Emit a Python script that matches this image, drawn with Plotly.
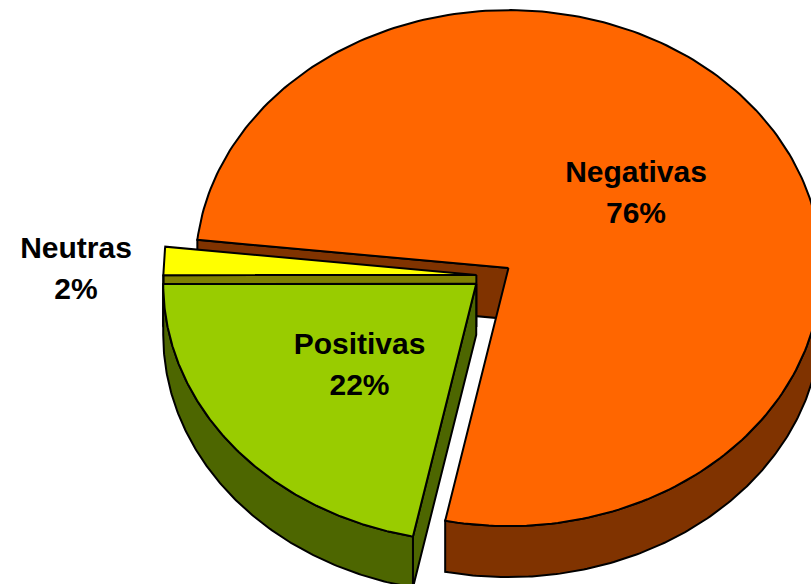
import numpy as np
import plotly.graph_objects as go

categories = ["Negativas", "Positivas", "Neutras"]
values = [76.49, 21.75, 1.76]
top_colors = ["#FF6600", "#99CC00", "#FFFF00"]
side_colors = ["#803300", "#4D6600", "#808000"]
explode_x = [0.065, 0.065, 0.05]
explode_y = [0.05, 0.05, 0.05]
label_x = [636, 359.5, 76]
name_y = [174, 346, 250]
pct_y = [215, 387, 291]
draw_order = [0, 2, 1]

CX, CY, A, B, DEPTH, START = 492, 275.7, 313, 258, 51, 186.3
LINE = dict(color="black", width=2)

fig = go.Figure()


def poly(xs, ys, color):
    fig.add_trace(go.Scatter(x=np.r_[xs, xs[0]], y=np.r_[ys, ys[0]], mode="lines", fill="toself",
                             fillcolor=color, line=LINE, hoverinfo="skip", showlegend=False))


def rim(ax, ay, t0, t1, color):
    # outer wall: only the part facing the viewer (sin t > 0)
    for k in (0, 1):
        lo, hi = max(t0, 360 * k), min(t1, 360 * k + 180)
        if hi > lo:
            t = np.radians(np.linspace(lo, hi, 160))
            x = ax + A * np.cos(t)
            y = ay + B * np.sin(t)
            poly(np.r_[x, x[::-1]], np.r_[y, y[::-1] + DEPTH], color)


def radial(ax, ay, t, color):
    r = np.radians(t)
    ex, ey = ax + A * np.cos(r), ay + B * np.sin(r)
    poly(np.array([ax, ex, ex, ax]), np.array([ay, ey, ey + DEPTH, ay + DEPTH]), color)


sweeps = np.array(values) / sum(values) * 360
starts = START + np.r_[0, np.cumsum(sweeps)[:-1]]

for i in draw_order:
    t0, t1 = starts[i], starts[i] + sweeps[i]
    mid = np.radians((t0 + t1) / 2)
    ax = CX + explode_x[i] * A * np.cos(mid)
    ay = CY + explode_y[i] * B * np.sin(mid)
    radial(ax, ay, t0, side_colors[i])
    rim(ax, ay, t0, t1, side_colors[i])
    t = np.radians(np.linspace(t0, t1, 240))
    poly(np.r_[ax, ax + A * np.cos(t)], np.r_[ay, ay + B * np.sin(t)], top_colors[i])

font = dict(family="Liberation Sans, Arial, sans-serif", size=30, color="black")
fig.add_trace(go.Scatter(x=label_x, y=name_y, mode="text", text=[f"<b>{c}</b>" for c in categories],
                         textfont=font, textposition="middle center", cliponaxis=False,
                         hoverinfo="skip", showlegend=False))
fig.add_trace(go.Scatter(x=label_x, y=pct_y, mode="text", text=[f"<b>{round(v)}%</b>" for v in values],
                         textfont=font, textposition="middle center", cliponaxis=False,
                         hoverinfo="skip", showlegend=False))

fig.update_layout(width=811, height=584, margin=dict(l=0, r=0, t=0, b=0),
                  paper_bgcolor="white", plot_bgcolor="white",
                  xaxis=dict(range=[0, 811], visible=False, fixedrange=True),
                  yaxis=dict(range=[584, 0], visible=False, fixedrange=True))
fig.write_html("out.html", config={"displayModeBar": False},
               post_script="document.body.style.margin='0';document.body.style.overflow='hidden';")
